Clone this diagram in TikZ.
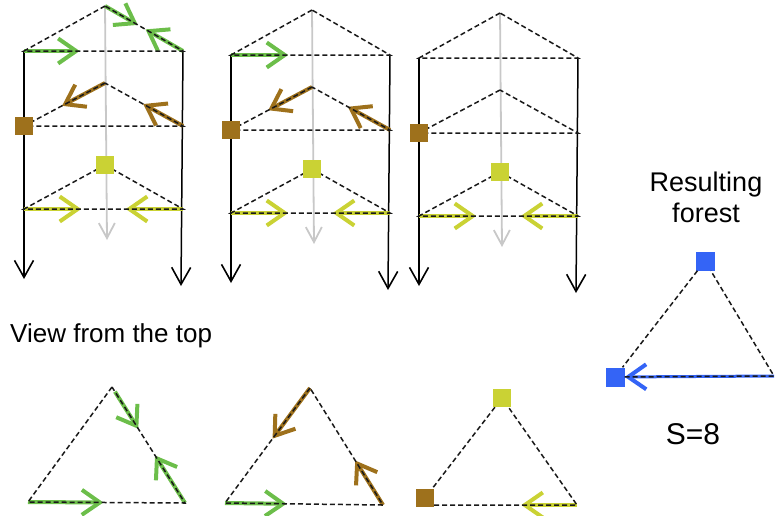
\documentclass[tikz,border=0pt]{standalone}
\usepackage{fontspec}
\setmainfont{Liberation Sans}
\usetikzlibrary{arrows.meta,calc}
\definecolor{leafgreen}{RGB}{108,190,74}
\definecolor{barkbrown}{RGB}{158,113,28}
\definecolor{limeyellow}{RGB}{202,210,52}
\definecolor{rootblue}{RGB}{52,100,246}
\definecolor{axisgray}{RGB}{200,200,200}
\begin{document}
\begin{tikzpicture}[x=1pt,y=-1pt,
    edge/.style={dash pattern=on 5pt off 3pt,line width=1.5pt,black!90},
    down/.style={line width=1.5pt,-{Straight Barb[length=17pt,width=19pt,line width=1.6pt]}},
    mid/.style={line width=1.8pt,axisgray,-{Straight Barb[length=15pt,width=16pt,line width=1.8pt]}},
    hop/.style={line width=4pt,#1,-{Straight Barb[length=18pt,width=25pt,line width=4pt]}},
    blk/.style={minimum size=18pt,inner sep=0pt,fill=#1},
    lbl/.style={font=\fontsize{26}{31}\selectfont,inner sep=0pt}]
\useasboundingbox (0,0) rectangle (776,515);
\foreach \p/\dx/\dy in {1/0/0,2/207/4,3/395/7}{
    \begin{scope}[shift={(\dx,\dy)}]
        \foreach \k/\ya/\yc in {1/6/51,2/83/126,3/165/209}{
            \coordinate (A\p\k) at (105,\ya);
            \coordinate (L\p\k) at (24,\yc);
            \coordinate (R\p\k) at (183,\yc);
        }
        \coordinate (G\p) at (107,240);
        \coordinate (BL\p) at (24,279);
        \coordinate (BR\p) at (181,286);
    \end{scope}
    \draw[mid] (A\p1) -- (G\p);
    \draw[down] (L\p1) -- (BL\p);
    \draw[down] (R\p1) -- (BR\p);
}
\draw[hop=leafgreen] (L11) -- ($(L11)!0.35!(R11)$);
\draw[hop=leafgreen] (A11) -- ($(A11)!0.42!(R11)$);
\draw[hop=leafgreen] (R11) -- ($(R11)!0.48!(A11)$);
\draw[hop=barkbrown] (A12) -- ($(A12)!0.53!(L12)$);
\draw[hop=barkbrown] (R12) -- ($(R12)!0.51!(A12)$);
\draw[hop=leafgreen] (L21) -- ($(L21)!0.36!(R21)$);
\draw[hop=barkbrown] (A22) -- ($(A22)!0.54!(L22)$);
\draw[hop=barkbrown] (R22) -- ($(R22)!0.54!(A22)$);
\foreach \p in {1,2,3}{
    \draw[hop=limeyellow] (L\p3) -- ($(L\p3)!0.36!(R\p3)$);
    \draw[hop=limeyellow] (R\p3) -- ($(R\p3)!0.36!(L\p3)$);
    \foreach \k in {1,2,3}
        \draw[edge] (A\p\k) -- (L\p\k) -- (R\p\k) -- cycle;
    \node[blk=barkbrown] (brown\p) at (L\p2) {};
    \node[blk=limeyellow] (lime\p) at (A\p3) {};
}
\foreach \t/\xa/\ya/\xl/\yl/\xr/\yr in {1/112/387/28/502/185/503,2/310/388/225/503/383/505}{
    \coordinate (TA\t) at (\xa,\ya);
    \coordinate (TL\t) at (\xl,\yl);
    \coordinate (TR\t) at (\xr,\yr);
}
\draw[hop=leafgreen] ($(TA1)!0.04!(TR1)$) -- ($(TA1)!0.36!(TR1)$);
\draw[hop=leafgreen] (TR1) -- ($(TR1)!0.41!(TA1)$);
\draw[hop=leafgreen] (TL1) -- ($(TL1)!0.48!(TR1)$);
\draw[hop=barkbrown] (TA2) -- ($(TA2)!0.44!(TL2)$);
\draw[hop=barkbrown] (TR2) -- ($(TR2)!0.38!(TA2)$);
\draw[hop=leafgreen] (TL2) -- ($(TL2)!0.39!(TR2)$);
\foreach \t in {1,2}
    \draw[edge] (TA\t) -- (TL\t) -- (TR\t) -- cycle;
\node[blk=limeyellow] (lime4) at (502,398) {};
\node[blk=barkbrown] (brown4) at (425,498) {};
\coordinate (TR3) at (577,505);
\draw[hop=limeyellow] (TR3) -- ($(TR3)!0.39!(brown4.east |- TR3)$);
\draw[edge] (lime4) -- (brown4) (brown4.east |- TR3) -- (TR3) -- (lime4);
\node[blk=rootblue,minimum size=19pt] (root) at (705,261) {};
\node[blk=rootblue,minimum size=19pt] (leaf) at (615,377) {};
\coordinate (TR4) at (774,376);
\draw[hop=rootblue,line width=3pt] (TR4) -- (leaf);
\draw[edge] (root) -- (leaf) -- (TR4) -- (root);
\node[lbl,anchor=base west] (view) at (10,342) {View from the top};
\node[lbl,anchor=north,align=center,font=\fontsize{27}{31}\selectfont] (result) at (706,172) {Resulting\\forest};
\node[lbl,anchor=base,font=\fontsize{30}{30}\selectfont] (score) at (693,444) {S=8};
\end{tikzpicture}
\end{document}
